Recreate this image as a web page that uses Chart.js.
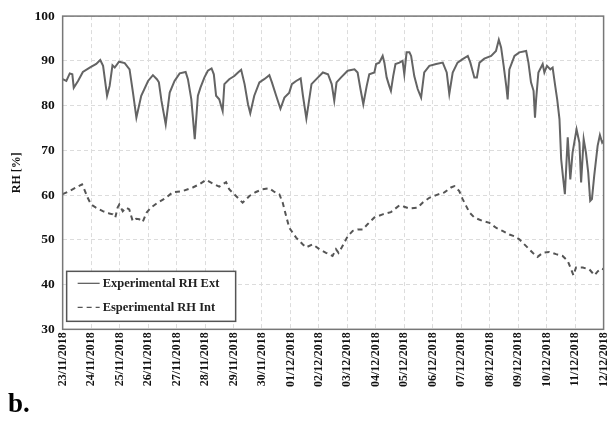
<html>
<head>
	<script src="https://cdn.jsdelivr.net/npm/chart.js@4/dist/chart.umd.min.js"></script>
</head>
<body style="margin:0; background:#fff; overflow:hidden">
	<div style="position:relative; width:621px; height:425px">
		<canvas id="myChart"></canvas>
		<div style="position:absolute; left:8px; top:388px; font:bold 27px 'Liberation Serif'; color:#000">b.</div>
	</div>
</body>
<script>

// x = days since 23/11/2018 00:00
const dateLabels = ['23/11/2018','24/11/2018','25/11/2018','26/11/2018','27/11/2018','28/11/2018','29/11/2018','30/11/2018',
  '01/12/2018','02/12/2018','03/12/2018','04/12/2018','05/12/2018','06/12/2018','07/12/2018','08/12/2018',
  '09/12/2018','10/12/2018','11/12/2018','12/12/2018'];

const extDays = [0.00,0.13,0.25,0.34,0.39,0.54,0.71,0.95,1.18,1.32,1.42,1.56,1.65,1.75,1.83,1.98,2.18,2.35,2.47,2.59,
  2.76,3.00,3.17,3.31,3.38,3.47,3.62,3.76,3.93,4.11,4.32,4.40,4.52,4.64,4.75,4.84,4.98,5.10,5.23,5.31,
  5.39,5.50,5.62,5.68,5.85,6.03,6.16,6.27,6.39,6.51,6.59,6.73,6.91,7.08,7.26,7.35,7.50,7.65,7.79,7.96,
  8.05,8.20,8.36,8.44,8.56,8.74,8.97,9.14,9.32,9.45,9.54,9.62,9.78,10.01,10.25,10.36,10.46,10.56,10.68,10.77,
  10.95,11.01,11.12,11.24,11.30,11.38,11.47,11.53,11.61,11.69,11.83,11.94,12.00,12.08,12.18,12.24,12.35,12.47,12.59,12.70,
  12.88,13.12,13.35,13.49,13.58,13.70,13.87,14.05,14.23,14.32,14.46,14.55,14.64,14.81,15.05,15.22,15.32,15.40,15.49,15.58,
  15.63,15.69,15.87,16.04,16.28,16.36,16.45,16.54,16.59,16.63,16.71,16.86,16.92,17.01,17.13,17.21,17.30,17.37,17.45,17.51,
  17.57,17.64,17.74,17.83,17.91,18.05,18.15,18.21,18.30,18.38,18.46,18.53,18.59,18.67,18.79,18.87,18.95,19.00];
const extRH = [85.9,85.5,87.2,87.0,84.0,85.5,87.5,88.5,89.3,90.2,88.9,82.2,84.4,89.0,88.5,89.8,89.5,88.1,82.9,77.3,
  82.2,85.5,86.8,85.9,85.2,81.1,75.8,82.9,85.5,87.2,87.5,85.9,81.4,72.5,82.2,84.0,86.3,87.8,88.3,87.0,
  82.2,81.4,78.8,84.8,85.9,86.6,87.4,88.0,84.8,80.3,78.3,82.2,85.2,85.9,86.8,85.2,82.2,79.3,81.8,82.9,
  84.8,85.5,86.1,82.2,77.1,84.8,86.3,87.4,87.0,84.8,81.1,85.2,86.3,87.8,88.1,87.4,83.7,80.3,84.4,87.0,
  87.4,89.3,89.6,91.1,89.6,86.3,84.4,83.3,86.6,89.3,89.6,90.0,87.0,91.9,91.9,91.1,86.6,83.7,81.8,87.4,
  88.9,89.3,89.6,87.4,82.6,87.4,89.6,90.4,91.1,89.6,86.3,86.3,89.6,90.5,91.1,92.2,94.7,93.0,88.9,84.4,
  81.4,88.1,91.1,91.9,92.2,89.6,85.2,83.3,77.3,81.4,87.4,89.3,87.4,88.9,88.1,88.5,84.4,81.4,77.0,68.0,
  64.3,60.2,72.9,63.5,69.5,74.7,71.7,62.8,72.5,69.5,65.0,58.7,59.1,64.3,71.0,73.4,71.7,72.1];

const intDays = [0.00,0.24,0.47,0.68,0.76,0.88,1.00,1.17,1.41,1.64,1.76,1.85,1.93,1.99,2.11,2.23,2.34,2.46,2.58,2.69,
  2.81,2.95,3.10,3.34,3.63,3.86,4.22,4.57,4.80,5.04,5.27,5.50,5.62,5.74,5.85,6.09,6.32,6.56,6.79,7.02,
  7.26,7.44,7.61,7.73,7.85,7.96,8.20,8.43,8.55,8.78,9.02,9.25,9.48,9.60,9.69,9.83,10.01,10.19,10.36,10.54,
  10.71,10.95,11.24,11.53,11.83,12.00,12.18,12.47,12.64,12.88,13.12,13.41,13.64,13.76,13.93,14.05,14.17,14.29,14.46,14.75,
  14.99,15.22,15.45,15.69,15.87,16.04,16.28,16.51,16.68,16.86,17.09,17.33,17.56,17.74,17.86,17.94,18.03,18.27,18.50,18.68,
  18.80,18.92,19.00];
const intRH = [60.2,60.9,61.7,62.4,61.3,59.4,57.9,57.2,56.4,55.9,55.7,55.0,57.2,57.9,56.4,57.2,56.8,54.2,54.7,54.6,
  54.0,56.1,57.2,58.3,59.4,60.6,60.9,61.7,62.4,63.4,62.6,61.9,62.4,62.9,61.3,59.8,58.3,59.8,60.7,61.3,
  61.5,60.7,60.2,58.3,55.3,52.7,50.5,49.0,48.3,49.0,47.9,47.1,46.4,47.9,47.1,48.6,50.8,52.0,52.3,52.3,
  53.5,55.0,55.7,56.2,57.7,57.4,57.0,57.2,58.3,59.4,60.0,60.6,61.7,62.0,60.9,59.1,57.6,56.1,55.0,54.2,
  53.8,52.7,52.0,51.2,50.8,50.1,48.6,47.1,46.2,47.1,47.3,46.8,46.4,45.3,43.4,42.1,43.8,43.8,43.4,42.1,
  43.0,43.6,43.4];

const seriesNames = ['Experimental RH Ext', 'Esperimental RH Int'];
const yTicks = [30, 40, 50, 60, 70, 80, 90, 100];

const data = {
  datasets: [
    {
      label: seriesNames[0],
      data: extDays.map((d, i) => ({x: d, y: extRH[i]})),
      borderColor: "rgb(100, 100, 100)",
      borderWidth: 2,
      pointRadius: 0,
      tension: 0
    },
    {
      label: seriesNames[1],
      data: intDays.map((d, i) => ({x: d, y: intRH[i]})),
      borderColor: "rgb(85, 85, 85)",
      borderWidth: 2,
      borderDash: [5, 4],
      pointRadius: 0,
      tension: 0
    }
  ]
};

// boxed legend in lower-left corner + frame round the plot
const boxLegend = {
  id: 'boxLegend',
  afterDraw(chart) {
    const ctx = chart.ctx;
    const a = chart.chartArea;
    ctx.save();
    ctx.strokeStyle = '#777';
    ctx.lineWidth = 1.5;
    ctx.strokeRect(a.left, a.top, a.right - a.left, a.bottom - a.top);

    const bx = a.left + 4, by = a.bottom - 58, bw = 169, bh = 50;
    ctx.fillStyle = '#fff';
    ctx.fillRect(bx, by, bw, bh);
    ctx.strokeStyle = '#555';
    ctx.lineWidth = 1.5;
    ctx.strokeRect(bx, by, bw, bh);
    ctx.font = 'bold 12.5px "Liberation Serif"';
    ctx.textBaseline = 'middle';
    chart.data.datasets.forEach((ds, i) => {
      const yy = by + 12 + i * 24;
      ctx.strokeStyle = ds.borderColor;
      ctx.lineWidth = 1.3;
      ctx.setLineDash(ds.borderDash || []);
      ctx.beginPath();
      ctx.moveTo(bx + 11, yy);
      ctx.lineTo(bx + 33, yy);
      ctx.stroke();
      ctx.setLineDash([]);
      ctx.fillStyle = '#222';
      ctx.fillText(ds.label, bx + 36, yy);
    });
    ctx.restore();
  }
};

const config = {
  type: 'line',
  data: data,
  options: {
    maintainAspectRatio: false,
    responsive: true,
    animation: false,
    layout: { padding: { top: 10, right: 0, bottom: 35, left: 8 } },
    plugins: {
      legend: { display: false },
      tooltip: { enabled: false }
    },
    scales: {
      x: {
        type: 'linear',
        min: 0,
        max: dateLabels.length - 1,
        afterBuildTicks: (scale) => { scale.ticks = dateLabels.map((l, i) => ({value: i})); },
        ticks: {
          autoSkip: false,
          maxRotation: 90,
          minRotation: 90,
          padding: 3,
          color: '#111',
          font: { family: 'Liberation Serif', size: 12, weight: 'bold' },
          callback: (v) => dateLabels[v]
        },
        grid: { color: '#dcdcdc', drawTicks: false, lineWidth: 1 },
        border: { display: false, dash: [4, 3] }
      },
      y: {
        min: 30,
        max: 100,
        afterBuildTicks: (scale) => { scale.ticks = yTicks.map(v => ({value: v})); },
        ticks: {
          padding: 8,
          color: '#111',
          font: { family: 'Liberation Serif', size: 13.5, weight: 'bold' }
        },
        title: {
          display: true,
          text: 'RH [%]',
          color: '#111',
          padding: 2,
          font: { family: 'Liberation Serif', size: 12, weight: 'bold' }
        },
        grid: { color: '#dcdcdc', drawTicks: false, lineWidth: 1 },
        border: { display: false, dash: [4, 3] }
      }
    }
  },
  plugins: [boxLegend]
};
var ctx = document.getElementById('myChart');
var myChart = new Chart(ctx, config);

</script>
</html>
